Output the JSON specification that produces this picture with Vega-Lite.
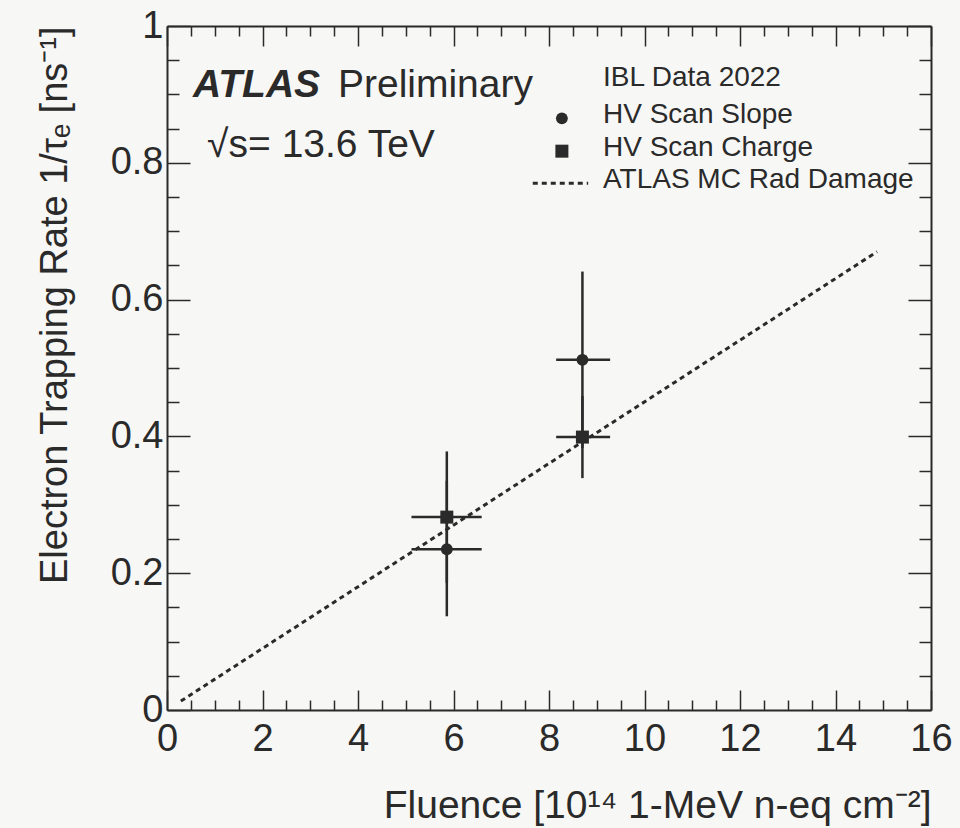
{
  "$schema": "https://vega.github.io/schema/vega-lite/v6.json",
  "width": 764,
  "height": 684,
  "autosize": {"type": "none"},
  "padding": {"left": 167, "top": 26, "right": 29, "bottom": 118},
  "background": "#f7f7f5",
  "config": {
    "view": {"stroke": null},
    "axis": {
      "grid": false,
      "labelFont": "Liberation Sans",
      "titleFont": "Liberation Sans",
      "labelColor": "#2a2a2a",
      "titleColor": "#2a2a2a",
      "domainColor": "#2a2a2a",
      "tickColor": "#2a2a2a",
      "domainWidth": 2,
      "tickWidth": 1.5,
      "labelFlush": false,
      "labelOverlap": false,
      "labelBound": false,
      "titleFontWeight": "normal"
    },
    "text": {"font": "Liberation Sans", "color": "#2a2a2a"}
  },
  "datasets": {
    "mc": [
      {"fluence": 0.29, "rate": 0.013},
      {"fluence": 14.87, "rate": 0.670}
    ],
    "pts": [
      {"series": "HV Scan Slope", "fluence": 5.86, "rate": 0.235, "flo": 5.12, "fhi": 6.59, "rlo": 0.137, "rhi": 0.335},
      {"series": "HV Scan Charge", "fluence": 5.86, "rate": 0.282, "flo": 5.12, "fhi": 6.59, "rlo": 0.186, "rhi": 0.378},
      {"series": "HV Scan Slope", "fluence": 8.70, "rate": 0.512, "flo": 8.15, "fhi": 9.28, "rlo": 0.383, "rhi": 0.641},
      {"series": "HV Scan Charge", "fluence": 8.70, "rate": 0.399, "flo": 8.15, "fhi": 9.28, "rlo": 0.339, "rhi": 0.459}
    ],
    "big": [
      {"fluence": 3.58, "rate": 0.896, "label": "Preliminary"},
      {"fluence": 0.84, "rate": 0.808, "label": "√s= 13.6 TeV"}
    ],
    "atlas": [
      {"fluence": 0.545, "rate": 0.896, "label": "ATLAS"}
    ],
    "legtext": [
      {"fluence": 9.13, "rate": 0.924, "label": "IBL Data 2022"},
      {"fluence": 9.13, "rate": 0.870, "label": "HV Scan Slope"},
      {"fluence": 9.13, "rate": 0.822, "label": "HV Scan Charge"},
      {"fluence": 9.13, "rate": 0.775, "label": "ATLAS MC Rad Damage"}
    ],
    "legsym": [
      {"series": "HV Scan Slope", "fluence": 8.27, "rate": 0.865},
      {"series": "HV Scan Charge", "fluence": 8.27, "rate": 0.817}
    ],
    "legline": [
      {"fluence": 7.66, "fluence2": 8.82, "rate": 0.770}
    ]
  },
  "layer": [
    {
      "data": {"name": "mc"},
      "mark": {"type": "line", "color": "#2a2a2a", "strokeWidth": 3, "strokeDash": [5, 4]},
      "encoding": {
        "x": {"field": "fluence", "type": "quantitative",
          "scale": {"domain": [0, 16], "nice": false, "zero": false},
          "axis": {"orient": "bottom", "values": [0, 2, 4, 6, 8, 10, 12, 14, 16], "tickSize": -20, "labelPadding": 30, "labelFontSize": 38,
            "title": "Fluence [10¹⁴ 1-MeV n-eq cm⁻²]", "titleFontSize": 39, "titleAlign": "right", "titleAnchor": "end", "titleX": 764, "titleY": 95, "titleBaseline": "middle"}},
        "y": {"field": "rate", "type": "quantitative",
          "scale": {"domain": [0, 1], "nice": false, "zero": false},
          "axis": {"orient": "left", "values": [0, 0.2, 0.4, 0.6, 0.8, 1], "format": ".1~f", "tickSize": -23, "labelPadding": 27, "labelFontSize": 38,
            "title": "Electron Trapping Rate 1/τₑ [ns⁻¹]", "titleFontSize": 38, "titleAngle": -90, "titleAlign": "right", "titleAnchor": "end", "titleX": -112, "titleY": 0, "titleBaseline": "middle"}}
      }
    },
    {
      "data": {"name": "pts"},
      "mark": {"type": "rule", "color": "#2a2a2a", "strokeWidth": 2.5},
      "encoding": {
        "x": {"field": "flo", "type": "quantitative", "scale": {"domain": [0, 16], "nice": false, "zero": false},
          "axis": {"orient": "bottom", "values": [0.5, 1, 1.5, 2.5, 3, 3.5, 4.5, 5, 5.5, 6.5, 7, 7.5, 8.5, 9, 9.5, 10.5, 11, 11.5, 12.5, 13, 13.5, 14.5, 15, 15.5], "tickSize": -10, "labels": false, "domain": false, "title": null}},
        "x2": {"field": "fhi"},
        "y": {"field": "rate", "type": "quantitative", "scale": {"domain": [0, 1], "nice": false, "zero": false},
          "axis": {"orient": "left", "values": [0.05, 0.1, 0.15, 0.25, 0.3, 0.35, 0.45, 0.5, 0.55, 0.65, 0.7, 0.75, 0.85, 0.9, 0.95], "tickSize": -12, "labels": false, "domain": false, "title": null}}
      }
    },
    {
      "data": {"name": "pts"},
      "mark": {"type": "rule", "color": "#2a2a2a", "strokeWidth": 2.5},
      "encoding": {
        "x": {"field": "fluence", "type": "quantitative", "scale": {"domain": [0, 16], "nice": false, "zero": false},
          "axis": {"orient": "top", "values": [0, 2, 4, 6, 8, 10, 12, 14, 16], "tickSize": -20, "labels": false, "title": null}},
        "y": {"field": "rlo", "type": "quantitative", "scale": {"domain": [0, 1], "nice": false, "zero": false},
          "axis": {"orient": "right", "values": [0, 0.2, 0.4, 0.6, 0.8, 1], "tickSize": -23, "labels": false, "title": null}},
        "y2": {"field": "rhi"}
      }
    },
    {
      "data": {"name": "pts"},
      "mark": {"type": "point", "filled": true, "opacity": 1, "color": "#2a2a2a"},
      "encoding": {
        "x": {"field": "fluence", "type": "quantitative", "scale": {"domain": [0, 16], "nice": false, "zero": false},
          "axis": {"orient": "top", "values": [0.5, 1, 1.5, 2.5, 3, 3.5, 4.5, 5, 5.5, 6.5, 7, 7.5, 8.5, 9, 9.5, 10.5, 11, 11.5, 12.5, 13, 13.5, 14.5, 15, 15.5], "tickSize": -10, "labels": false, "domain": false, "title": null}},
        "y": {"field": "rate", "type": "quantitative", "scale": {"domain": [0, 1], "nice": false, "zero": false},
          "axis": {"orient": "right", "values": [0.05, 0.1, 0.15, 0.25, 0.3, 0.35, 0.45, 0.5, 0.55, 0.65, 0.7, 0.75, 0.85, 0.9, 0.95], "tickSize": -12, "labels": false, "domain": false, "title": null}},
        "shape": {"field": "series", "type": "nominal", "scale": {"domain": ["HV Scan Slope", "HV Scan Charge"], "range": ["circle", "square"]}, "legend": null},
        "size": {"field": "series", "type": "nominal", "scale": {"domain": ["HV Scan Slope", "HV Scan Charge"], "range": [140, 169]}, "legend": null}
      }
    },
    {
      "data": {"name": "legsym"},
      "mark": {"type": "point", "filled": true, "opacity": 1, "color": "#2a2a2a"},
      "encoding": {
        "x": {"field": "fluence", "type": "quantitative", "scale": {"domain": [0, 16], "nice": false, "zero": false}, "axis": null},
        "y": {"field": "rate", "type": "quantitative", "scale": {"domain": [0, 1], "nice": false, "zero": false}, "axis": null},
        "shape": {"field": "series", "type": "nominal", "scale": {"domain": ["HV Scan Slope", "HV Scan Charge"], "range": ["circle", "square"]}, "legend": null},
        "size": {"field": "series", "type": "nominal", "scale": {"domain": ["HV Scan Slope", "HV Scan Charge"], "range": [140, 169]}, "legend": null}
      }
    },
    {
      "data": {"name": "legline"},
      "mark": {"type": "rule", "color": "#2a2a2a", "strokeWidth": 3, "strokeDash": [5, 4]},
      "encoding": {
        "x": {"field": "fluence", "type": "quantitative", "scale": {"domain": [0, 16], "nice": false, "zero": false}, "axis": null},
        "x2": {"field": "fluence2"},
        "y": {"field": "rate", "type": "quantitative", "scale": {"domain": [0, 1], "nice": false, "zero": false}, "axis": null}
      }
    },
    {
      "data": {"name": "big"},
      "mark": {"type": "text", "fontSize": 39, "align": "left", "baseline": "alphabetic"},
      "encoding": {
        "x": {"field": "fluence", "type": "quantitative", "scale": {"domain": [0, 16], "nice": false, "zero": false}, "axis": null},
        "y": {"field": "rate", "type": "quantitative", "scale": {"domain": [0, 1], "nice": false, "zero": false}, "axis": null},
        "text": {"field": "label"}
      }
    },
    {
      "data": {"name": "atlas"},
      "mark": {"type": "text", "fontSize": 39, "fontWeight": "bold", "fontStyle": "italic", "align": "left", "baseline": "alphabetic"},
      "encoding": {
        "x": {"field": "fluence", "type": "quantitative", "scale": {"domain": [0, 16], "nice": false, "zero": false}, "axis": null},
        "y": {"field": "rate", "type": "quantitative", "scale": {"domain": [0, 1], "nice": false, "zero": false}, "axis": null},
        "text": {"field": "label"}
      }
    },
    {
      "data": {"name": "legtext"},
      "mark": {"type": "text", "fontSize": 28, "align": "left", "baseline": "middle"},
      "encoding": {
        "x": {"field": "fluence", "type": "quantitative", "scale": {"domain": [0, 16], "nice": false, "zero": false}, "axis": null},
        "y": {"field": "rate", "type": "quantitative", "scale": {"domain": [0, 1], "nice": false, "zero": false}, "axis": null},
        "text": {"field": "label"}
      }
    }
  ],
  "resolve": {"axis": {"x": "independent", "y": "independent"}}
}
